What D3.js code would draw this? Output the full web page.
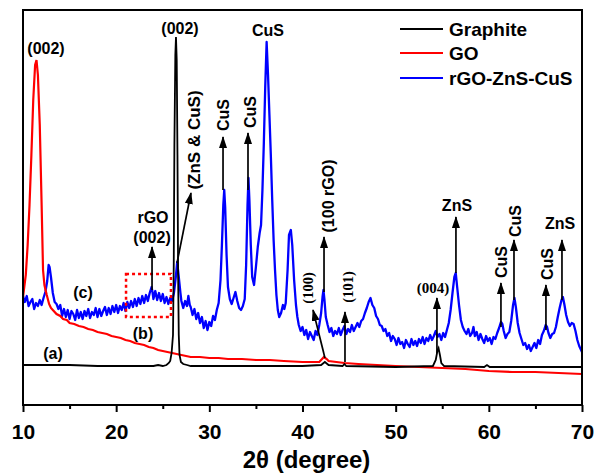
<!DOCTYPE html>
<html><head><meta charset="utf-8">
<script src="https://cdn.jsdelivr.net/npm/d3@7"></script>
<style>body{margin:0;background:#fff}svg{display:block}</style>
</head><body>
<svg id="c" width="596" height="476"></svg>
<script>
// 2θ (degree) ticks
const xTicks = [10, 20, 30, 40, 50, 60, 70];
const xMinorTicks = [15, 25, 35, 45, 55, 65];
const seriesNames = ["Graphite", "GO", "rGO-ZnS-CuS"];
const seriesColors = ["#000000", "#ff0000", "#0000ff"];

// (a) Graphite [2θ, intensity a.u.]
const graphite = [[10,40],[12,40],[15,40],[18,39],[20,39],[22,39],[24,39],[24.5,40],[25,39],[25.4,40],[25.65,42],[25.8,44],[25.95,52],[26.1,70],[26.18,140],[26.25,260],[26.35,350],[26.42,368],[26.5,345],[26.58,250],[26.65,130],[26.72,70],[26.8,50],[26.95,43],[27.2,41],[27.6,40],[28,39],[30,39],[35,39],[40,39],[42.0,40],[42.4,43],[42.8,40],[44.3,39],[44.5,41],[44.7,39],[50,38],[54.0,39],[54.3,45],[54.5,55],[54.6,57],[54.75,50],[54.9,42],[55.2,39],[59.5,38],[59.8,40],[60.1,38],[65,38],[70,38]];

// (b) GO
const go = [[10.0,108],[10.3,130],[10.5,160],[10.7,200],[10.9,250],[11.1,305],[11.3,340],[11.45,345],[11.6,330],[11.8,280],[12.0,200],[12.15,135],[12.3,120],[12.55,110],[12.8,101],[13.0,97],[13.2,95],[13.6,91],[14.0,89],[14.3,86],[14.7,85],[15.0,82],[15.5,81],[16.0,79],[16.5,78],[17.0,76],[17.5,75],[18.0,73],[18.5,72],[19.0,71],[19.5,69],[20.0,68],[20.5,67],[21.0,65],[21.5,64],[22.0,62],[22.5,61],[23.0,60],[23.5,58],[24.0,57],[24.5,55],[25.0,54],[25.5,53],[26.0,52],[26.5,51],[27.0,50],[27.5,49],[28.0,48],[29.0,48],[30.0,47],[31,47],[32.0,46],[33.5,46],[35.0,45],[36.5,45],[38.0,44],[40.0,43],[41.8,43],[42.1,46],[42.3,48],[42.6,46],[42.8,44],[44.5,42],[46.0,41],[48,40],[50.0,39],[52.5,38],[55.0,37],[57.5,36],[60.0,34],[62.5,33],[65.0,33],[67.5,32],[70.0,31]];

// (c) rGO-ZnS-CuS
const rgo = [[10.0,109],[10.2,103],[10.4,109],[10.6,99],[10.8,103],[11.0,106],[11.2,96],[11.4,102],[11.6,99],[11.8,105],[12.0,100],[12.2,107],[12.4,113],[12.6,124],[12.75,140],[12.85,138],[13.0,128],[13.2,112],[13.4,103],[13.6,101],[13.8,96],[14.0,100],[14.2,89],[14.4,96],[14.6,88],[14.8,95],[15.0,86],[15.2,94],[15.4,91],[15.6,85],[15.8,95],[16.0,87],[16.2,93],[16.4,86],[16.6,94],[16.8,89],[17.0,96],[17.2,87],[17.4,93],[17.6,90],[17.8,97],[18.0,88],[18.2,96],[18.4,89],[18.6,94],[18.8,98],[19.0,90],[19.2,97],[19.4,91],[19.6,99],[19.8,93],[20.0,100],[20.2,92],[20.4,99],[20.6,95],[20.8,102],[21.0,94],[21.2,103],[21.4,97],[21.6,104],[21.8,98],[22.0,106],[22.2,99],[22.4,107],[22.6,101],[22.8,109],[23.0,102],[23.2,110],[23.4,104],[23.6,112],[23.8,118],[23.9,113],[24.0,106],[24.2,114],[24.4,105],[24.6,112],[24.8,104],[25.0,111],[25.2,102],[25.4,108],[25.6,101],[25.8,107],[26.0,104],[26.2,112],[26.4,128],[26.55,143],[26.7,130],[26.9,112],[27.0,104],[27.2,97],[27.4,104],[27.6,99],[27.75,109],[27.9,100],[28.0,98],[28.2,90],[28.4,96],[28.6,86],[28.8,92],[29.0,82],[29.2,88],[29.4,77],[29.6,84],[29.8,75],[30.0,83],[30.2,79],[30.4,89],[30.6,85],[30.8,95],[31.0,102],[31.2,125],[31.35,160],[31.5,200],[31.6,215],[31.7,198],[31.85,150],[32.0,118],[32.2,106],[32.4,101],[32.6,107],[32.8,113],[33.0,104],[33.2,97],[33.4,95],[33.6,99],[33.8,106],[33.95,140],[34.1,200],[34.2,227],[34.3,205],[34.45,160],[34.6,128],[34.8,120],[35.0,138],[35.2,158],[35.4,172],[35.55,180],[35.7,215],[35.85,262],[36.0,318],[36.15,363],[36.3,330],[36.45,290],[36.6,250],[36.75,205],[36.9,165],[37.05,135],[37.2,110],[37.35,95],[37.5,88],[37.7,92],[37.9,100],[38.05,96],[38.2,102],[38.4,135],[38.55,170],[38.75,175],[38.9,160],[39.1,125],[39.3,100],[39.45,88],[39.6,80],[39.8,74],[40.0,78],[40.2,70],[40.4,75],[40.6,66],[40.8,73],[41.0,69],[41.2,65],[41.4,74],[41.6,70],[41.8,80],[42.0,92],[42.15,108],[42.25,115],[42.35,106],[42.5,88],[42.7,80],[42.9,73],[43.1,77],[43.3,69],[43.5,74],[43.7,71],[43.9,77],[44.1,70],[44.3,75],[44.5,79],[44.7,71],[44.9,76],[45.1,73],[45.3,80],[45.5,74],[45.7,78],[45.9,82],[46.1,78],[46.3,84],[46.5,86],[46.7,92],[46.9,97],[47.1,103],[47.3,107],[47.5,100],[47.7,97],[47.9,89],[48.1,86],[48.3,80],[48.5,79],[48.7,74],[48.9,76],[49.1,69],[49.3,72],[49.5,64],[49.7,69],[49.9,66],[50.1,60],[50.3,67],[50.5,61],[50.7,63],[50.9,57],[51.1,65],[51.3,61],[51.5,58],[51.7,66],[51.9,60],[52.1,64],[52.3,59],[52.5,66],[52.7,62],[52.9,68],[53.1,61],[53.3,67],[53.5,64],[53.7,70],[53.9,65],[54.1,69],[54.3,74],[54.5,68],[54.7,71],[54.9,65],[55.1,72],[55.3,68],[55.5,75],[55.7,82],[55.9,95],[56.1,112],[56.3,128],[56.45,132],[56.6,118],[56.8,100],[57.0,85],[57.2,78],[57.4,74],[57.6,71],[57.8,76],[58.0,69],[58.2,72],[58.35,78],[58.5,69],[58.7,73],[58.9,65],[59.1,71],[59.3,66],[59.5,62],[59.7,69],[59.9,64],[60.1,67],[60.3,61],[60.5,68],[60.7,66],[60.9,72],[61.1,77],[61.3,83],[61.45,81],[61.6,74],[61.8,67],[62.0,71],[62.2,73],[62.4,84],[62.6,100],[62.75,107],[62.9,98],[63.1,82],[63.3,72],[63.5,66],[63.7,60],[63.9,62],[64.1,56],[64.3,60],[64.5,54],[64.7,58],[64.9,62],[65.1,57],[65.3,65],[65.5,61],[65.7,70],[65.9,74],[66.1,80],[66.25,78],[66.4,72],[66.6,67],[66.8,71],[67.0,72],[67.2,78],[67.4,88],[67.6,97],[67.8,105],[67.95,108],[68.1,101],[68.3,90],[68.5,83],[68.7,79],[68.9,82],[69.1,81],[69.3,74],[69.5,65],[69.7,59],[69.9,55],[70.0,53]];

// annotations: text, 2θ, intensity, rotated, serif, size
const labels = [
  ["(002)",12.47,357,false,false,16],
  ["(002)",26.85,377,false,false,16],
  ["CuS",36.3,375,false,false,16],
  ["(ZnS & CuS)",28.46,265,true,false,17],
  ["CuS",31.47,290,true,false,16],
  ["CuS",34.47,293,true,false,16],
  ["rGO",23.95,188,false,false,16],
  ["(002)",23.85,168,false,false,16],
  ["(c)",16.44,113,false,false,16],
  ["(b)",22.88,72,false,false,16],
  ["(a)",13.22,52,false,false,16],
  ["(100 rGO)",42.74,209,true,false,16],
  ["(100)",40.59,117,true,true,14.5],
  ["(101)",44.88,118,true,true,14.5],
  ["(004)",54.0,117,false,true,15],
  ["ZnS",56.58,200,false,false,16],
  ["CuS",61.41,143,true,false,16],
  ["CuS",62.81,184,true,false,16],
  ["CuS",66.35,141,true,false,16],
  ["ZnS",67.64,182,false,false,16]
];
// arrows: from [2θ, I] to [2θ, I]
const arrows = [
  [26.53,142,28.03,212],[31.47,215,31.47,268],[34.15,215,34.15,272],[23.85,115,23.85,158],
  [42.31,113,42.31,168],[42.41,47,41.13,95],[44.56,43,44.56,93],[54.43,52,54.43,107],
  [56.47,132,56.47,188],[61.3,78,61.3,122],[62.7,105,62.7,165],[66.13,75,66.13,120],[67.85,105,67.85,165]
];
const box = [21.06, 25.88, 88, 131];

const svg = d3.select("#c");
const L = 23, R = 582, T = 10, B = 405;
const x = d3.scaleLinear().domain([10,70]).range([L,R]);
const y = d3.scaleLinear().domain([0,395]).range([B,T]);
const sans = "'Liberation Sans', Arial, sans-serif";
const serif = "'Liberation Serif', 'Times New Roman', serif";

svg.append("defs").append("marker").attr("id","ah")
  .attr("viewBox","0 0 12 8").attr("refX",11).attr("refY",4)
  .attr("markerWidth",12).attr("markerHeight",8).attr("markerUnits","userSpaceOnUse")
  .attr("orient","auto")
  .append("path").attr("d","M0,0L12,4L0,8Z").attr("fill","#000");

const line = d3.line().x(d=>x(d[0])).y(d=>y(d[1]));
const g = svg.append("g");
g.append("path").datum(rgo).attr("d",line).attr("fill","none").attr("stroke",seriesColors[2]).attr("stroke-width",2.3).attr("stroke-linejoin","round");
g.append("path").datum(go).attr("d",line).attr("fill","none").attr("stroke",seriesColors[1]).attr("stroke-width",2.2);
g.append("path").datum(graphite).attr("d",line).attr("fill","none").attr("stroke",seriesColors[0]).attr("stroke-width",1.8);

// dashed box
svg.append("rect").attr("x",x(box[0])).attr("y",y(box[3])).attr("width",x(box[1])-x(box[0])).attr("height",y(box[2])-y(box[3]))
  .attr("fill","none").attr("stroke","#ff0000").attr("stroke-width",2.5).attr("stroke-dasharray","3,3");

// arrows
svg.selectAll(".arr").data(arrows).join("line")
  .attr("x1",d=>x(d[0])).attr("y1",d=>y(d[1])).attr("x2",d=>x(d[2])).attr("y2",d=>y(d[3]))
  .attr("stroke","#000").attr("stroke-width",1.7).attr("marker-end","url(#ah)");

// labels
svg.selectAll(".lab").data(labels).join("text")
  .attr("transform",d=>`translate(${x(d[1])},${y(d[2])})${d[3]?" rotate(-90)":""}`)
  .attr("text-anchor","middle").attr("dominant-baseline","central")
  .attr("font-family",d=>d[4]?serif:sans).attr("font-weight","bold").attr("font-size",d=>d[5])
  .attr("fill","#000").text(d=>d[0]);

// frame
svg.append("rect").attr("x",L).attr("y",T).attr("width",R-L).attr("height",B-T)
  .attr("fill","none").attr("stroke","#000").attr("stroke-width",2);

// x axis
const ax = svg.append("g").attr("transform",`translate(0,${B})`)
  .call(d3.axisBottom(x).tickValues(xTicks).tickSize(7).tickSizeOuter(0).tickPadding(12));
ax.select(".domain").remove();
ax.selectAll(".tick line").attr("stroke-width",2);
ax.selectAll(".tick text").attr("font-family",sans).attr("font-weight","bold").attr("font-size",21).attr("fill","#000");
const axm = svg.append("g").attr("transform",`translate(0,${B})`)
  .call(d3.axisBottom(x).tickValues(xMinorTicks).tickSize(4).tickFormat(""));
axm.select(".domain").remove();
axm.selectAll(".tick line").attr("stroke-width",2);

svg.append("text").attr("x",(L+R)/2+4).attr("y",468).attr("text-anchor","middle")
  .attr("font-family",sans).attr("font-weight","bold").attr("font-size",24).text("2θ (degree)");

// legend
const lg = svg.append("g");
seriesNames.forEach((n,i)=>{
  const yy = [29,53,78][i];
  lg.append("line").attr("x1",400).attr("x2",443).attr("y1",yy).attr("y2",yy).attr("stroke",seriesColors[i]).attr("stroke-width",2);
  lg.append("text").attr("x",449).attr("y",yy+6.5).attr("font-family",sans).attr("font-weight","bold").attr("font-size",19).text(n);
});
</script>
</body></html>
